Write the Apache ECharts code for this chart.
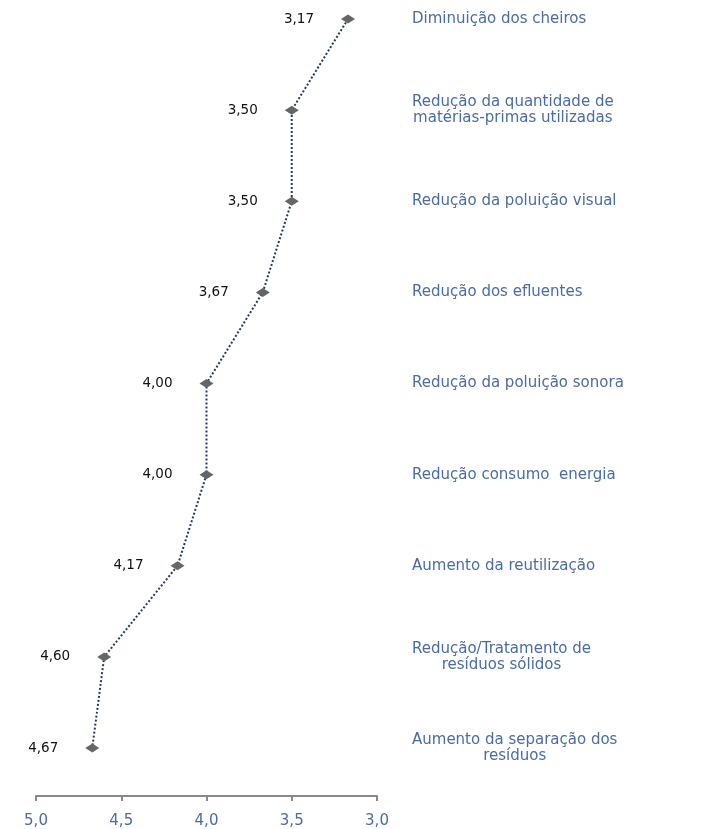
<!DOCTYPE html>
<html><head><meta charset="utf-8">
<script src="https://cdn.jsdelivr.net/npm/echarts@6/dist/echarts.min.js"></script>
<style>html,body{margin:0;padding:0;background:#fff}#c{width:712px;height:829px}</style>
</head><body><div id="c"></div>
<script>
const categories = [
  'Diminuição dos cheiros',
  'Redução da quantidade de\nmatérias-primas utilizadas',
  'Redução da poluição visual',
  'Redução dos efluentes',
  'Redução da poluição sonora',
  'Redução consumo  energia',
  'Aumento da reutilização',
  'Redução/Tratamento de\nresíduos sólidos',
  'Aumento da separação dos\nresíduos'
];
const values = [3.17, 3.50, 3.50, 3.67, 4.00, 4.00, 4.17, 4.60, 4.67];
const axisMin = 3.0, axisMax = 5.0, axisStep = 0.5;

const blue = '#4a6ca6';
const font = 'DejaVu Sans';
const chart = echarts.init(document.getElementById('c'));
chart.setOption({
  animation: false,
  backgroundColor: '#fff',
  grid: { left: 36, right: 335, top: 19, bottom: 81 },
  xAxis: {
    type: 'value', min: axisMin, max: axisMax, interval: axisStep, inverse: true,
    offset: 48,
    axisLine: { show: true, lineStyle: { color: '#8a8a8a', width: 2 } },
    axisTick: { show: true, length: 5, lineStyle: { color: '#8a8a8a', width: 2 } },
    splitLine: { show: false },
    axisLabel: {
      color: blue, fontSize: 15, fontFamily: font, margin: 18,
      formatter: v => v.toFixed(1).replace('.', ',')
    }
  },
  yAxis: {
    type: 'category', data: categories, inverse: true, boundaryGap: false,
    position: 'right',
    axisLine: { show: false }, axisTick: { show: false }, splitLine: { show: false },
    axisLabel: {
      interval: 0, margin: 35, align: 'left',
      color: blue, fontSize: 15, fontFamily: font, lineHeight: 16,
      formatter: s => s.split('\n').map(l => '{c|' + l + '}').join('\n'),
      rich: { c: { align: 'center', color: blue, fontSize: 15, fontFamily: font, lineHeight: 16 } }
    }
  },
  series: [{
    type: 'line',
    data: values,
    symbol: 'diamond',
    symbolSize: [14, 9],
    itemStyle: { color: '#666666' },
    lineStyle: { color: '#243b66', type: 'dotted', width: 2 },
    label: {
      show: true, position: 'left', distance: 27,
      color: '#111', fontSize: 13.5, fontFamily: font,
      formatter: p => values[p.dataIndex].toFixed(2).replace('.', ',')
    }
  }]
});
</script></body></html>
